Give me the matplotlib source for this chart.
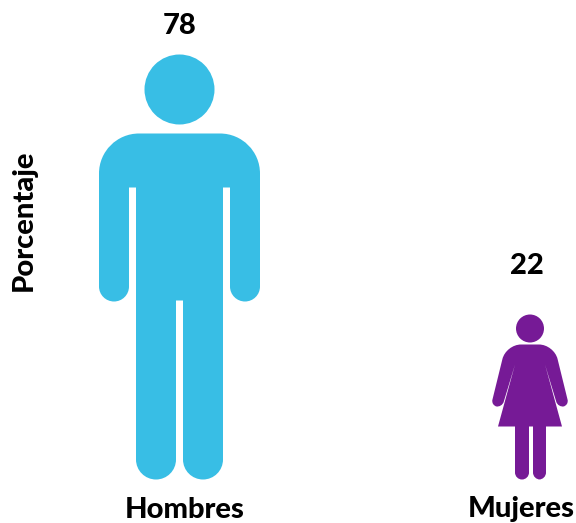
import matplotlib
matplotlib.use("Agg")
import matplotlib.pyplot as plt
from matplotlib.path import Path
from matplotlib.patches import PathPatch, Circle
from matplotlib.transforms import Affine2D

# data
categories = ["Hombres", "Mujeres"]
values = [78, 22]
colors = ["#38BEE5", "#761A96"]

plt.rcParams['font.family'] = ['Lato', 'DejaVu Sans']

# icon outlines, (x, height above the feet, corner radius), drawn in pixels
man_head = (0, 390, 35)
man_body = [(-80.5, 346, 40), (80.5, 346, 40), (80.5, 178, 15), (50.5, 178, 15),
            (50.5, 292, 0), (43.5, 292, 0), (43.5, 0, 20), (3.5, 0, 20),
            (3.5, 179, 0), (-3.5, 179, 0), (-3.5, 0, 20), (-43.5, 0, 20),
            (-43.5, 292, 0), (-50.5, 292, 0), (-50.5, 178, 15), (-80.5, 178, 15)]
woman_head = (0, 151, 14)
woman_body = [(-24, 135, 15), (24, 135, 15), (39, 74, 6), (28, 72, 6), (15, 115, 0),
              (32, 53, 0), (16, 53, 0), (16, 0, 7), (3, 0, 7), (3, 53, 0), (-1, 53, 0),
              (-1, 0, 7), (-15, 0, 7), (-15, 53, 0), (-32, 53, 0), (-15, 115, 0),
              (-28, 72, 6), (-39, 74, 6)]


def rounded_path(points):
    # closed polygon, each corner rounded with a bezier
    k = 0.5523
    verts, codes = [], []
    n = len(points)
    for i in range(n):
        x, y, r = points[i]
        px, py, _ = points[i - 1]
        nx, ny, _ = points[(i + 1) % n]
        d1 = ((x - px) ** 2 + (y - py) ** 2) ** 0.5
        d2 = ((nx - x) ** 2 + (ny - y) ** 2) ** 0.5
        ax1, ay1 = (x - px) / d1, (y - py) / d1
        ax2, ay2 = (nx - x) / d2, (ny - y) / d2
        start = (x - r * ax1, y - r * ay1)
        verts.append(start)
        codes.append(Path.MOVETO if i == 0 else Path.LINETO)
        if r > 0:
            verts += [(x - (1 - k) * r * ax1, y - (1 - k) * r * ay1),
                      (x + (1 - k) * r * ax2, y + (1 - k) * r * ay2),
                      (x + r * ax2, y + r * ay2)]
            codes += [Path.CURVE4] * 3
    verts.append(verts[0])
    codes.append(Path.CLOSEPOLY)
    return Path(verts, codes)


fig = plt.figure(figsize=(5.76, 5.23), dpi=100)
ax = fig.add_axes([0, 0, 1, 1])

# one category step is 350.5 px, y is in pixels above the feet
x_step = 350.5
ax.set_xlim(-179.5 / x_step, (576 - 179.5) / x_step)
ax.set_ylim(-43.5, 479.5)
ax.axis("off")

icons = [(man_head, man_body), (woman_head, woman_body)]
label_dx = [0.5, -3]
label_y = [453.5, 213.5]
name_dx = [5.5, -9]

for i, (head, body) in enumerate(icons):
    place = Affine2D().scale(1 / x_step, 1).translate(i, 0) + ax.transData
    ax.add_patch(PathPatch(rounded_path(body), fc=colors[i], ec="none", transform=place))
    ax.add_patch(Circle(head[:2], head[2], fc=colors[i], ec="none", transform=place))
    ax.text(i + label_dx[i] / x_step, label_y[i], str(values[i]), ha="center", va="center",
            fontsize=21, fontweight=900, color="black")
    ax.text(i + name_dx[i] / x_step, -30, categories[i], ha="center", va="center",
            fontsize=21, fontweight=900, color="black")

fig.text(24 / 576, 1 - 220 / 523, "Porcentaje", rotation=90, ha="center", va="center",
         fontsize=21, fontweight=900, color="black")

fig.savefig("out.png", dpi=100)
